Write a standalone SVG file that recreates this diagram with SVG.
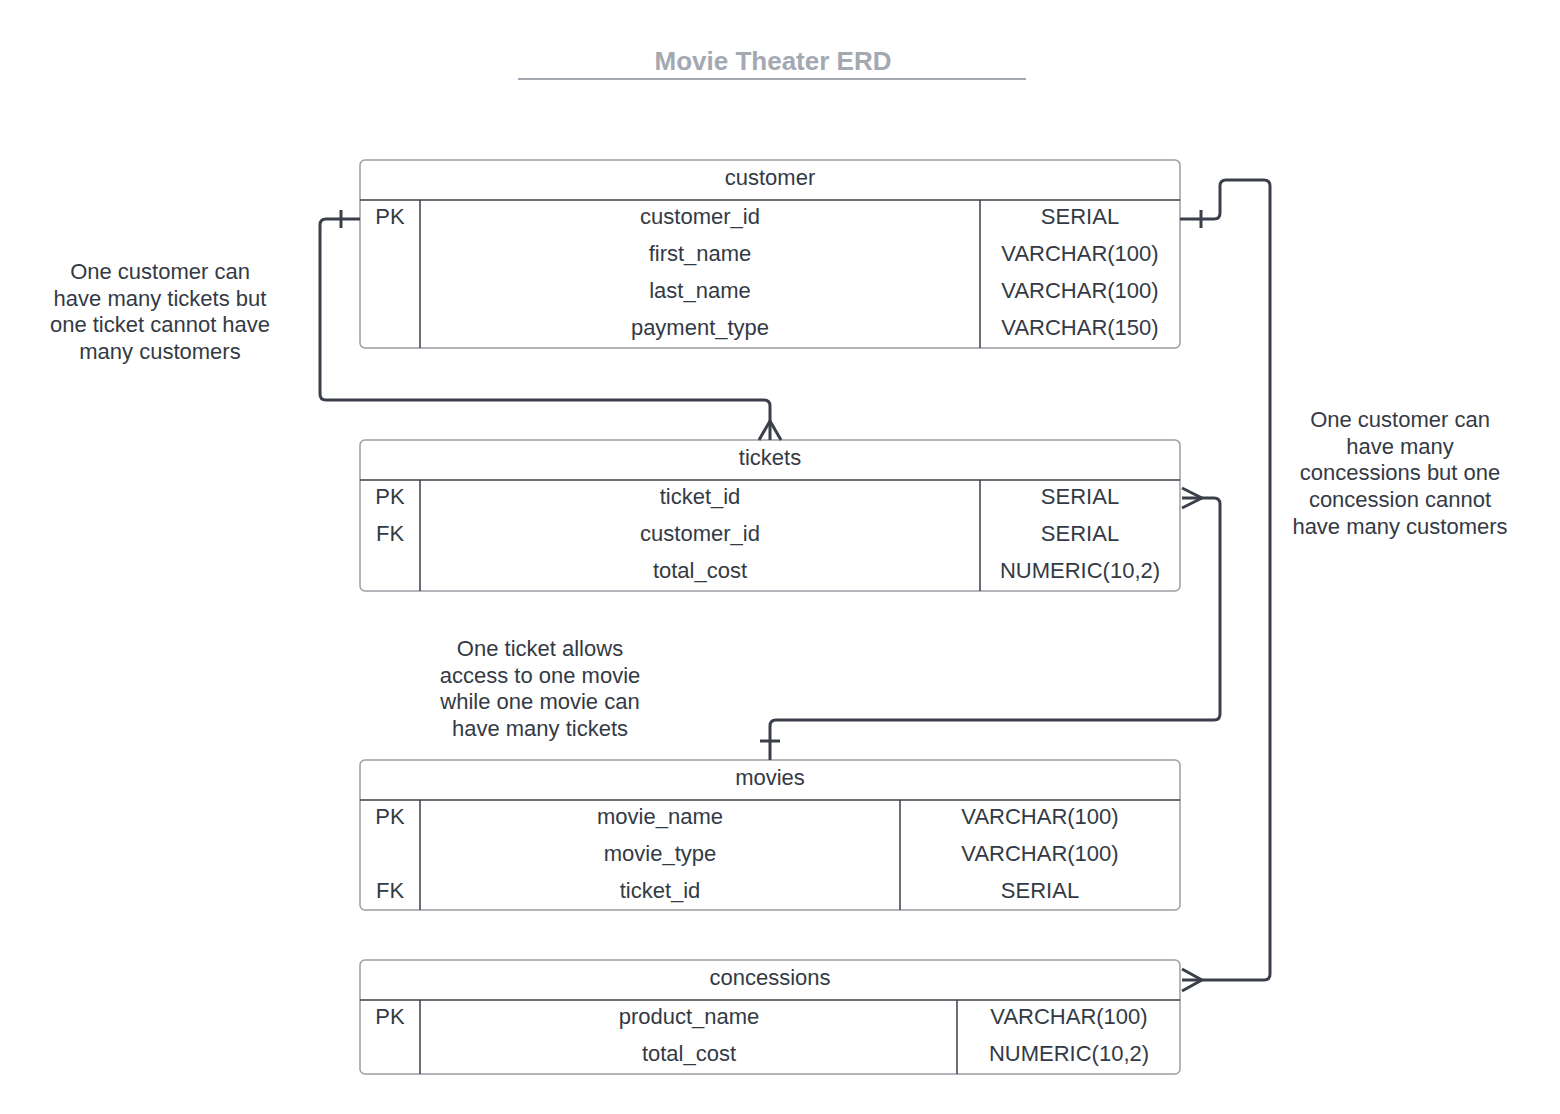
<svg xmlns="http://www.w3.org/2000/svg" width="1560" height="1114" viewBox="0 0 1560 1114">
<style>
text{font-family:"Liberation Sans",Arial,sans-serif;font-size:22px;fill:#333a45;text-anchor:middle;dominant-baseline:central}
.title{font-size:26px;font-weight:bold;fill:#a3a8b1}
.box{fill:#fff;stroke:#9a9da4;stroke-width:1.5}
.ln{stroke:#3a3f4a;stroke-width:1.5;fill:none}
.conn{stroke:#3a3f4a;stroke-width:3;fill:none;stroke-linejoin:round}
</style>
<rect width="1560" height="1114" fill="#fff"/>
<g id="title">
<text class="title" x="773" y="61">Movie Theater ERD</text>
<line x1="518" y1="79" x2="1026" y2="79" stroke="#a3a8b1" stroke-width="2"/>
</g>
<g id="customer">
<rect class="box" x="360" y="160" width="820" height="188" rx="5"/>
<line class="ln" x1="360" y1="200" x2="1180" y2="200"/>
<line class="ln" x1="420" y1="200" x2="420" y2="348"/>
<line class="ln" x1="980" y1="200" x2="980" y2="348"/>
<text x="770" y="177">customer</text>
<text x="390" y="216">PK</text>
<text x="700" y="216">customer_id</text><text x="1080" y="216">SERIAL</text>
<text x="700" y="253">first_name</text><text x="1080" y="253">VARCHAR(100)</text>
<text x="700" y="290">last_name</text><text x="1080" y="290">VARCHAR(100)</text>
<text x="700" y="327">payment_type</text><text x="1080" y="327">VARCHAR(150)</text>
</g>
<g id="tickets">
<rect class="box" x="360" y="440" width="820" height="151" rx="5"/>
<line class="ln" x1="360" y1="480" x2="1180" y2="480"/>
<line class="ln" x1="420" y1="480" x2="420" y2="591"/>
<line class="ln" x1="980" y1="480" x2="980" y2="591"/>
<text x="770" y="457">tickets</text>
<text x="390" y="496">PK</text>
<text x="700" y="496">ticket_id</text><text x="1080" y="496">SERIAL</text>
<text x="390" y="533">FK</text>
<text x="700" y="533">customer_id</text><text x="1080" y="533">SERIAL</text>
<text x="700" y="570">total_cost</text><text x="1080" y="570">NUMERIC(10,2)</text>
</g>
<g id="movies">
<rect class="box" x="360" y="760" width="820" height="150" rx="5"/>
<line class="ln" x1="360" y1="800" x2="1180" y2="800"/>
<line class="ln" x1="420" y1="800" x2="420" y2="910"/>
<line class="ln" x1="900" y1="800" x2="900" y2="910"/>
<text x="770" y="777">movies</text>
<text x="390" y="816">PK</text>
<text x="660" y="816">movie_name</text><text x="1040" y="816">VARCHAR(100)</text>
<text x="660" y="853">movie_type</text><text x="1040" y="853">VARCHAR(100)</text>
<text x="390" y="890">FK</text>
<text x="660" y="890">ticket_id</text><text x="1040" y="890">SERIAL</text>
</g>
<g id="concessions">
<rect class="box" x="360" y="960" width="820" height="114" rx="5"/>
<line class="ln" x1="360" y1="1000" x2="1180" y2="1000"/>
<line class="ln" x1="420" y1="1000" x2="420" y2="1074"/>
<line class="ln" x1="957" y1="1000" x2="957" y2="1074"/>
<text x="770" y="977">concessions</text>
<text x="390" y="1016">PK</text>
<text x="689" y="1016">product_name</text><text x="1069" y="1016">VARCHAR(100)</text>
<text x="689" y="1053">total_cost</text><text x="1069" y="1053">NUMERIC(10,2)</text>
</g>
<g id="notes">
<text x="160" y="271">One customer can</text>
<text x="160" y="298">have many tickets but</text>
<text x="160" y="324">one ticket cannot have</text>
<text x="160" y="351">many customers</text>
<text x="1400" y="419">One customer can</text>
<text x="1400" y="446">have many</text>
<text x="1400" y="472">concessions but one</text>
<text x="1400" y="499">concession cannot</text>
<text x="1400" y="526">have many customers</text>
<text x="540" y="648">One ticket allows</text>
<text x="540" y="675">access to one movie</text>
<text x="540" y="701">while one movie can</text>
<text x="540" y="728">have many tickets</text>
</g>
<g id="connectors">
<path class="conn" d="M360 219 H326 Q320 219 320 225 V394 Q320 400 326 400 H764 Q770 400 770 406 V440"/>
<path class="conn" d="M341 210 V228"/>
<path class="conn" d="M759 440 L770 421 L781 440"/>
<path class="conn" d="M1180 219 H1214 Q1220 219 1220 213 V186 Q1220 180 1226 180 H1264 Q1270 180 1270 186 V974 Q1270 980 1264 980 H1182"/>
<path class="conn" d="M1201 210 V228"/>
<path class="conn" d="M1182 969 L1202 980 L1182 991"/>
<path class="conn" d="M1182 498 H1214 Q1220 498 1220 504 V714 Q1220 720 1214 720 H776 Q770 720 770 726 V760"/>
<path class="conn" d="M1182 488 L1202 498 L1182 508"/>
<path class="conn" d="M760 741 H780"/>
</g>
</svg>
